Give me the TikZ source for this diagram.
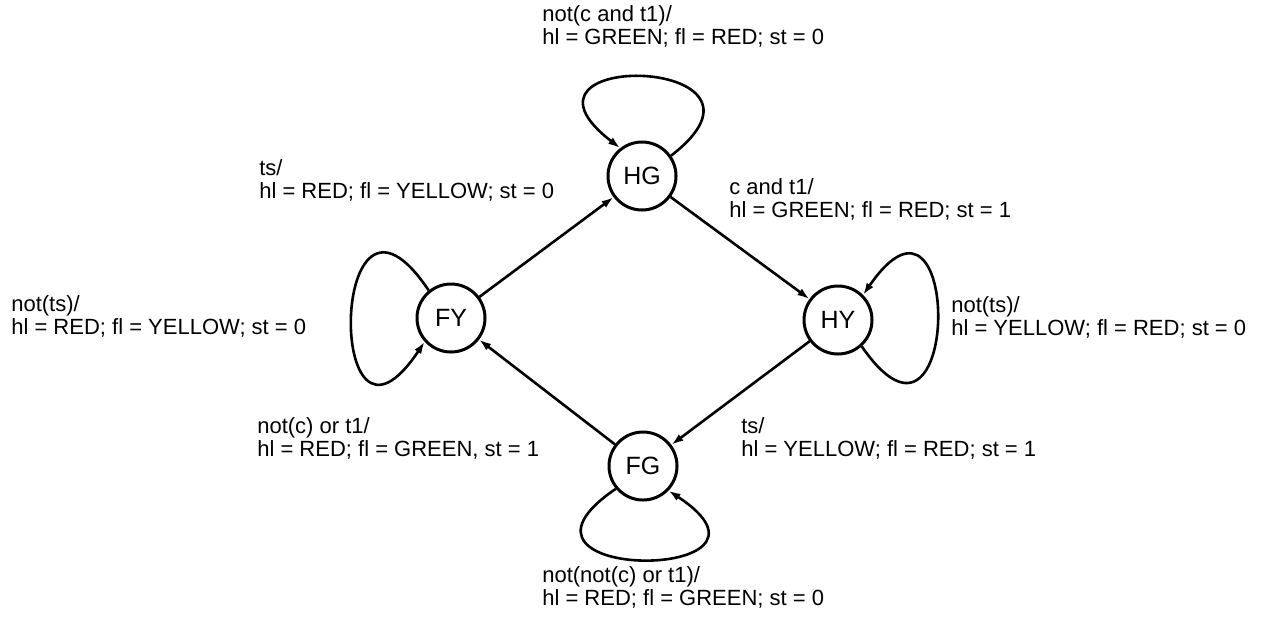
\documentclass[tikz,border=0pt]{standalone}
\usepackage{fontspec}
\setmainfont{Liberation Sans}
\usetikzlibrary{arrows.meta}
\tikzset{
  state/.style={draw, circle, line width=1.5pt, minimum size=34pt, inner sep=0pt,
    font=\fontsize{12.5}{14}\selectfont},
  trans/.style={anchor=west, align=left, inner sep=0pt,
    font=\fontsize{11}{11.5}\selectfont}
}
\begin{document}
\begin{tikzpicture}[>={Latex[open,length=6pt,width=4pt]}, x=0.5pt, y=-0.5pt, line width=1.3pt]
\useasboundingbox (0,0) rectangle (1278,618);

\node[state] (HG) at (642,176) {HG};
\node[state] (HY) at (838,320) {HY};
\node[state] (FG) at (643,466) {FG};
\node[state] (FY) at (451,318) {FY};

\draw[->] (HG)--(HY);
\draw[->] (HY)--(FG);
\draw[->] (FG)--(FY);
\draw[->] (FY)--(HG);

% self loops
\draw[->] (HG.35) .. controls +(130,-100) and +(-130,-100) .. (HG.128);
\draw[->] (HY.-48) .. controls +(100,145) and +(100,-145) .. (HY.45);
\draw[->] (FG.220) .. controls +(-140,95) and +(140,92) .. (FG.316);
\draw[->] (FY.129) .. controls +(-100,-150) and +(-100,150) .. (FY.222);

\node[trans] (lHG) at (541,26) {not(c and t1)/\\hl = GREEN; fl = RED; st = 0};
\node[trans] (lFYHG) at (258,180) {ts/\\hl = RED; fl = YELLOW; st = 0};
\node[trans] (lHGHY) at (728,199) {c and t1/\\hl = GREEN; fl = RED; st = 1};
\node[trans] (lFY) at (10,316) {not(ts)/\\hl = RED; fl = YELLOW; st = 0};
\node[trans] (lHY) at (950,317) {not(ts)/\\hl = YELLOW; fl = RED; st = 0};
\node[trans] (lFGFY) at (256,438) {not(c) or t1/\\hl = RED; fl = GREEN, st = 1};
\node[trans] (lHYFG) at (740,438) {ts/\\hl = YELLOW; fl = RED; st = 1};
\node[trans] (lFG) at (541,587) {not(not(c) or t1)/\\hl = RED; fl = GREEN; st = 0};
\end{tikzpicture}
\end{document}
